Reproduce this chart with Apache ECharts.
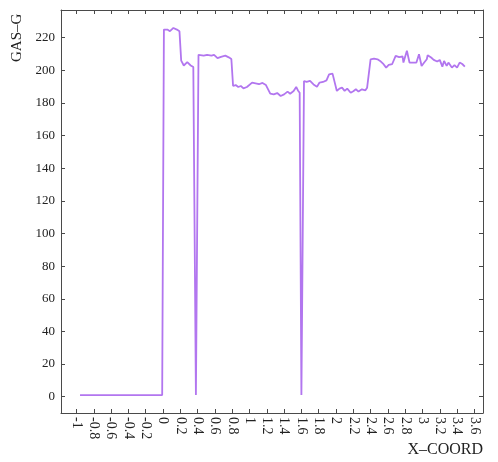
<!DOCTYPE html>
<html>
<head>
<meta charset="utf-8">
<title>GAS-G vs X-COORD</title>
<script src="https://cdn.jsdelivr.net/npm/echarts@6/dist/echarts.min.js"></script>
<style>
  html, body { margin: 0; padding: 0; background: #fff; }
  #chart { width: 498px; height: 462px; }
</style>
</head>
<body>
<div id="chart"></div>
<script>
// values
const xCoord = [
  -0.96, -0.01, 0.01, 0.05, 0.08, 0.12, 0.16, 0.19, 0.21, 0.24, 0.28, 0.32, 0.35, 0.38,
  0.41, 0.47, 0.51, 0.56, 0.59, 0.63, 0.67, 0.72, 0.76, 0.79,
  0.81, 0.84, 0.87, 0.90, 0.93, 0.97, 1.03, 1.07, 1.11, 1.15, 1.19, 1.20, 1.24, 1.28,
  1.32, 1.36, 1.40, 1.44, 1.47, 1.51, 1.54, 1.56, 1.58, 1.60,
  1.63, 1.66, 1.70, 1.74, 1.78, 1.81, 1.85, 1.89, 1.92, 1.96, 1.98, 2.01, 2.04, 2.07,
  2.10, 2.13, 2.17, 2.20, 2.23, 2.26, 2.30, 2.34, 2.36, 2.40, 2.44, 2.48, 2.51, 2.55,
  2.58, 2.61, 2.65, 2.69, 2.73, 2.77, 2.78, 2.82, 2.85, 2.90, 2.93, 2.96, 2.99, 3.02,
  3.05, 3.06, 3.10, 3.13, 3.17, 3.20, 3.23, 3.25, 3.28, 3.30, 3.34, 3.37, 3.40, 3.43,
  3.46, 3.49
];
const gasG = [
  1, 1, 225, 225, 224, 226, 225, 224, 206, 203, 205, 203, 202, 1,
  209.5, 209, 209.5, 209, 209.5, 207.5, 208.3, 209, 208, 207,
  190.4, 191, 189.8, 190.4, 189, 189.8, 192.5, 192, 191.5, 192.3, 191, 191.5, 185.7, 185.3,
  186.1, 184.3, 185.3, 187, 185.7, 187.3, 189.8, 187.7, 186.3, 1,
  193.5, 192.9, 193.5, 191.4, 190, 192.5, 192.9, 193.9, 197.6, 198, 197, 187.4, 188.8, 189.4,
  187.4, 188.8, 186.3, 187.2, 188.4, 187, 188.4, 187.8, 189.4, 206.8, 207.2, 206.8, 205.8, 203.8,
  201.7, 203.4, 203.9, 208.9, 208.1, 208.5, 204.8, 212, 204.8, 204.8, 204.8, 209.9, 202.7, 204.8,
  206.8, 209.3, 207.9, 206.4, 205.4, 206.4, 202.3, 205.8, 202.7, 204.8, 201.7, 203.2, 201.7, 204.8,
  203.9, 202.3
];
const xTicks = [-1, -0.8, -0.6, -0.4, -0.2, 0, 0.2, 0.4, 0.6, 0.8, 1, 1.2, 1.4, 1.6, 1.8,
  2, 2.2, 2.4, 2.6, 2.8, 3, 3.2, 3.4, 3.6];
const yTicks = [0, 20, 40, 60, 80, 100, 120, 140, 160, 180, 200, 220];

const font = "'Liberation Serif', 'DejaVu Serif', serif";
const frameColor = "#4a4a4a";

const chart = echarts.init(document.getElementById("chart"));

function xAxisDef(pos, showLabels) {
  return {
    type: "value",
    position: pos,
    min: -1.18,
    max: 3.7,
    axisLine: { show: true, onZero: false, lineStyle: { color: frameColor, width: 1 } },
    axisTick: { show: true, inside: true, length: 4, customValues: xTicks,
      lineStyle: { color: frameColor } },
    axisLabel: {
      show: showLabels,
      customValues: xTicks,
      rotate: -90,
      margin: 4,
      color: "#222",
      fontFamily: font,
      fontSize: 14,
      formatter: (v) => String(Math.round(v * 10) / 10)
    },
    splitLine: { show: false }
  };
}

function yAxisDef(pos, showLabels) {
  return {
    type: "value",
    position: pos,
    min: -10,
    max: 237,
    axisLine: { show: true, onZero: false, lineStyle: { color: frameColor, width: 1 } },
    axisTick: { show: true, inside: true, length: 4, customValues: yTicks,
      lineStyle: { color: frameColor } },
    axisLabel: {
      show: showLabels,
      customValues: yTicks,
      margin: 6,
      color: "#222",
      fontFamily: font,
      fontSize: 13
    },
    splitLine: { show: false }
  };
}

chart.setOption({
  animation: false,
  backgroundColor: "#fff",
  grid: { left: 61, right: 15, top: 10, bottom: 49 },
  xAxis: [xAxisDef("bottom", true), xAxisDef("top", false)],
  yAxis: [yAxisDef("left", true), yAxisDef("right", false)],
  graphic: [
    {
      type: "text",
      x: 10,
      y: 62,
      rotation: Math.PI / 2,
      style: { text: "GAS\u2013G", fontFamily: font, fontSize: 15, fill: "#222",
        textVerticalAlign: "top" }
    },
    {
      type: "text",
      right: 15,
      top: 442,
      style: { text: "X\u2013COORD", fontFamily: font, fontSize: 16, fill: "#222" }
    }
  ],
  series: [
    {
      type: "line",
      data: xCoord.map((x, i) => [x, gasG[i]]),
      showSymbol: false,
      lineStyle: { color: "#b276ef", width: 1.8 },
      itemStyle: { color: "#b276ef" }
    }
  ]
});
</script>
</body>
</html>
